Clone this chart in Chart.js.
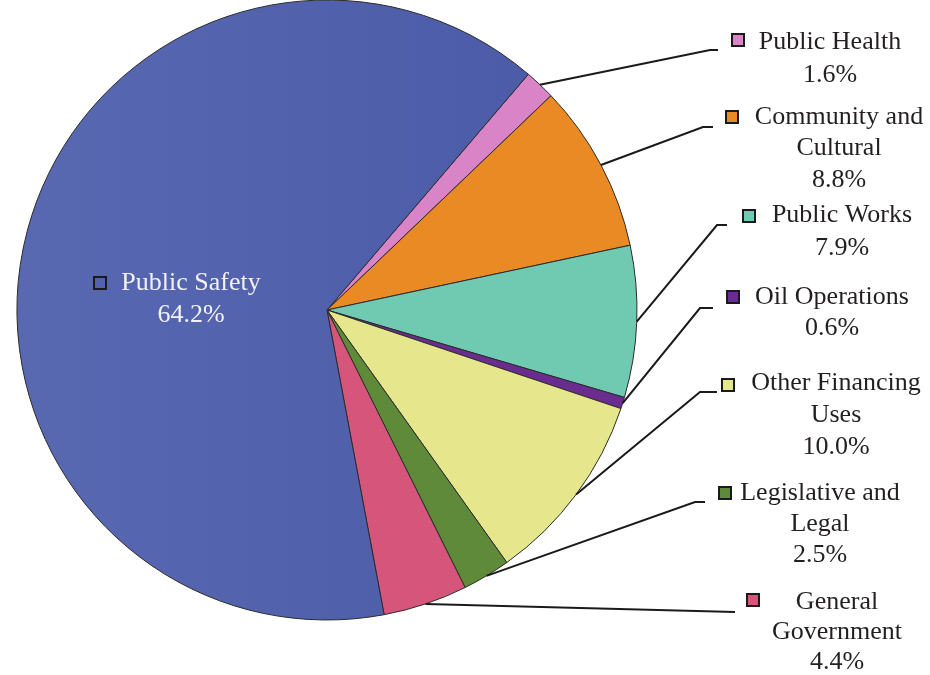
<!DOCTYPE html>
<html>
<head>
<meta charset="utf-8">
<script src="https://cdn.jsdelivr.net/npm/chart.js@4.4.1/dist/chart.umd.min.js"></script>
<style>
  html, body { margin: 0; padding: 0; background: #fff; }
  #wrap { position: relative; width: 930px; height: 675px; }
</style>
</head>
<body>
<div id="wrap"><canvas id="pie" width="930" height="675"></canvas></div>
<script>
// Expenditure shares, clockwise from Public Health
const categories = ['Public Health', 'Community and Cultural', 'Public Works', 'Oil Operations',
                    'Other Financing Uses', 'Legislative and Legal', 'General Government', 'Public Safety']
const shares     = [1.6, 8.8, 7.9, 0.6, 10.0, 2.5, 4.4, 64.2]
const colors     = ['#D884C6', '#E98A24', '#70C9B1', '#6B2C90', '#E6E68C', '#5F8A3A', '#D6557A', '#5262AD']

// how each name is broken into lines on the picture
const nameLines  = [
  ['Public Health'],
  ['Community and', 'Cultural'],
  ['Public Works'],
  ['Oil Operations'],
  ['Other Financing', 'Uses'],
  ['Legislative and', 'Legal'],
  ['General', 'Government'],
  ['Public Safety']
]

// label placement: marker square, text centre, first line y, line step, leader elbow
const labelLayout = [
  { sq: [738, 40],  cx: 830, y: 42,  step: 33, elbow: [710, 50],  end: 718 },
  { sq: [732, 117], cx: 839, y: 117, step: 31.5, elbow: [703, 127], end: 713 },
  { sq: [749, 216], cx: 842, y: 215, step: 33, elbow: [717, 225], end: 727 },
  { sq: [733, 297], cx: 832, y: 297, step: 31, elbow: [700, 308], end: 713 },
  { sq: [728, 385], cx: 836, y: 383, step: 32, elbow: [700, 392], end: 717 },
  { sq: [725, 493], cx: 820, y: 493, step: 31, elbow: [695, 502], end: 705 },
  { sq: [753, 600], cx: 837, y: 602, step: 30, elbow: [735, 612], end: 735 },
  { sq: [100, 283], cx: 191, y: 283, step: 32, elbow: null, end: null, inside: true }
]

const FONT = '26px "Liberation Serif", "Times New Roman", serif'

const labelPlugin = {
  id: 'pieLabels',
  afterDatasetsDraw(chart)
  {
    const ctx  = chart.ctx
    const arcs = chart.getDatasetMeta(0).data

    ctx.save()
    ctx.font         = FONT
    ctx.textAlign    = 'center'
    ctx.textBaseline = 'middle'

    arcs.forEach((arc, i) => {
      const lay  = labelLayout[i]
      const p    = arc.getProps(['x', 'y', 'startAngle', 'endAngle', 'outerRadius'], true)
      const mid  = (p.startAngle + p.endAngle) / 2

      if( lay.elbow )
      {
        const sx = p.x + Math.cos(mid) * p.outerRadius
        const sy = p.y + Math.sin(mid) * p.outerRadius
        ctx.strokeStyle = '#1a1a1a'
        ctx.lineWidth   = 2
        ctx.beginPath()
        ctx.moveTo(sx, sy)
        ctx.lineTo(lay.elbow[0], lay.elbow[1])
        ctx.lineTo(lay.end, lay.elbow[1])
        ctx.stroke()
      }

      // marker square
      ctx.fillStyle   = colors[i]
      ctx.strokeStyle = '#1a1a1a'
      ctx.lineWidth   = 2
      ctx.fillRect(lay.sq[0] - 6, lay.sq[1] - 6, 12, 12)
      ctx.strokeRect(lay.sq[0] - 6, lay.sq[1] - 6, 12, 12)

      const lines = nameLines[i].concat([shares[i].toFixed(1) + '%'])
      ctx.fillStyle = lay.inside ? '#f2f2f4' : '#231F20'
      lines.forEach((t, k) => ctx.fillText(t, lay.cx, lay.y + k * lay.step))
    })

    ctx.restore()
  }
}

const ctx = document.getElementById('pie').getContext('2d')

new Chart(ctx, {
  type: 'pie',
  data: {
    labels: categories,
    datasets: [{
      data: shares,
      backgroundColor: (c) => {
        if( c.dataIndex !== 7 ) return colors[c.dataIndex]
        const g = c.chart.ctx.createLinearGradient(20, 0, 640, 0)
        g.addColorStop(0, '#5868B1')
        g.addColorStop(1, '#4A59A6')
        return g
      },
      borderColor: '#2b2b2b',
      borderWidth: 1,
      radius: 310,
      clip: false
    }]
  },
  options: {
    responsive: false,
    animation: false,
    devicePixelRatio: 1,
    rotation: 40.5,
    layout: { padding: { left: 0, top: 0, right: 276, bottom: 55 } },
    plugins: {
      legend:  { display: false },
      tooltip: { enabled: false }
    }
  },
  plugins: [labelPlugin]
})
</script>
</body>
</html>
